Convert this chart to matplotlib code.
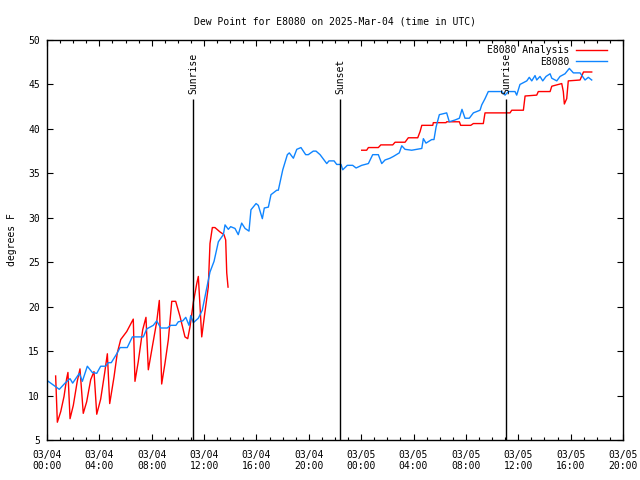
import numpy as np
import matplotlib
matplotlib.use('Agg')
import matplotlib.pyplot as plt

# time in hours since 03/04 00:00 UTC
obs_hours = [0.0, 0.94, 1.38, 1.76, 1.96, 2.47, 2.70, 3.08, 3.46, 3.80, 4.10, 4.48, 4.68, 4.91,
             5.37, 5.58, 6.13, 6.52, 7.36, 7.62, 8.12, 8.38, 8.69, 9.19, 9.45, 9.85, 10.03, 10.37,
             10.60, 10.85, 10.98, 11.18, 11.56, 11.86, 12.12, 12.45, 12.76, 13.09, 13.47, 13.60,
             13.85, 14.03, 14.36, 14.61, 14.87, 15.13, 15.43, 15.58, 15.97, 16.14, 16.45, 16.60,
             16.91, 17.11, 17.55, 17.67, 18.01, 18.36, 18.51, 18.82, 19.08, 19.40, 19.76, 19.96,
             20.34, 20.55, 20.86, 21.37, 21.54, 21.93, 22.13, 22.46, 22.59, 22.94, 23.35, 23.61,
             24.04, 24.55, 24.88, 25.31, 25.57, 25.82, 26.20, 26.46, 26.91, 27.10, 27.35, 27.86,
             28.24, 28.63, 28.75, 28.95, 29.39, 29.56, 29.72, 29.97, 30.53, 30.73, 31.17, 31.50,
             31.70, 31.93, 32.26, 32.57, 33.08, 33.21, 33.46, 33.71, 34.74, 34.99, 35.24, 35.75,
             35.88, 36.13, 36.39, 36.65, 36.84, 37.03, 37.28, 37.41, 37.66, 37.87, 38.12, 38.43,
             38.56, 38.94, 39.19, 39.57, 39.90, 40.21, 40.72, 41.10, 41.35, 41.61]
obs_dewp = [11.7, 10.7, 11.4, 11.9, 11.4, 12.5, 11.6, 13.3, 12.6, 12.5, 13.3, 13.3, 13.7, 13.7,
            14.8, 15.4, 15.4, 16.6, 16.6, 17.5, 17.9, 18.4, 17.6, 17.6, 17.9, 17.9, 18.3, 18.4,
            18.8, 17.9, 19.0, 18.2, 18.7, 19.6, 21.5, 23.9, 25.1, 27.3, 28.1, 29.2,
            28.7, 29.0, 28.8, 28.1, 29.4, 28.8, 28.5, 30.9, 31.6, 31.4, 29.9, 31.1,
            31.2, 32.6, 33.1, 33.1, 35.4, 37.1, 37.3, 36.7, 37.7, 37.9, 37.1, 37.1,
            37.5, 37.5, 37.1, 36.1, 36.4, 36.4, 36.0, 36.0, 35.4, 35.9, 35.9, 35.6,
            35.9, 36.1, 37.1, 37.1, 36.1, 36.5, 36.7, 36.9, 37.3, 38.1, 37.7, 37.6,
            37.7, 37.8, 38.9, 38.4, 38.8, 38.8, 40.2, 41.6, 41.8, 40.8, 41.0, 41.2,
            42.2, 41.2, 41.2, 41.8, 42.1, 42.7, 43.4, 44.2, 44.2, 43.8, 44.2, 44.2,
            43.8, 45.0, 45.2, 45.4, 45.8, 45.4, 46.0, 45.5, 45.9, 45.4, 45.9, 46.2,
            45.7, 45.4, 45.9, 46.2, 46.8, 46.3, 46.3, 45.5, 45.8, 45.5]

ana1_hours = [0.66, 0.79, 1.05, 1.30, 1.50, 1.60, 1.76, 2.01, 2.31, 2.52, 2.77, 3.03, 3.34, 3.59,
              3.80, 4.10, 4.41, 4.61, 4.79, 5.12, 5.37, 5.63, 6.09, 6.59, 6.72, 6.97, 7.31, 7.56,
              7.74, 8.07, 8.38, 8.58, 8.76, 9.01, 9.27, 9.53, 9.83, 10.16, 10.54, 10.75, 10.92,
              11.18, 11.44, 11.56, 11.82, 12.02, 12.32, 12.45, 12.63, 12.83, 13.22, 13.52, 13.65,
              13.73, 13.83]
ana1_dewp = [12.2, 7.0, 8.2, 9.9, 11.9, 12.6, 7.4, 8.9, 11.6, 13.0, 8.0, 9.3, 11.8, 12.7,
             7.9, 9.6, 12.6, 14.7, 9.1, 12.1, 14.8, 16.3, 17.2, 18.6, 11.6, 13.8, 17.4, 18.8,
             12.9, 15.7, 18.3, 20.7, 11.3, 13.6, 16.3, 20.6, 20.6, 18.9, 16.6, 16.4, 17.7,
             20.5, 22.6, 23.4, 16.6, 18.9, 22.2, 27.1, 28.9, 28.9, 28.4, 28.1, 27.5,
             23.8, 22.2]

ana2_hours = [24.04, 24.42, 24.55, 25.31, 25.50, 26.41, 26.59, 27.35, 27.60, 28.32, 28.50, 28.63,
              29.47, 29.51, 30.48, 30.53, 31.50, 31.60, 32.37, 32.57, 33.33, 33.46, 35.37, 35.50,
              36.39, 36.52, 37.41, 37.53, 38.43, 38.56, 39.32, 39.44, 39.52, 39.70, 39.82, 40.72,
              40.98, 41.61]
ana2_dewp = [37.6, 37.6, 37.9, 37.9, 38.2, 38.2, 38.5, 38.5, 39.0, 39.0, 39.7, 40.4,
             40.4, 40.7, 40.7, 40.8, 40.8, 40.4, 40.4, 40.6, 40.6, 41.8, 41.8, 42.1,
             42.1, 43.7, 43.8, 44.2, 44.2, 44.8, 45.1, 44.2, 42.8, 43.4, 45.4, 45.5,
             46.4, 46.4]

sun_hours = [11.15, 22.38, 35.06]
sun_names = ['Sunrise', 'Sunset', 'Sunrise']

tick_hours = list(range(0, 45, 4))
tick_labels = ['03/04\n00:00', '03/04\n04:00', '03/04\n08:00', '03/04\n12:00',
               '03/04\n16:00', '03/04\n20:00', '03/05\n00:00', '03/05\n04:00',
               '03/05\n08:00', '03/05\n12:00', '03/05\n16:00', '03/05\n20:00']

plt.rcParams['font.family'] = ['DejaVu Sans Mono']
plt.rcParams['font.size'] = 7

fig = plt.figure(figsize=(6.4, 4.8), dpi=100)
ax = fig.add_axes([47/640, 40/480, 576/640, 400/480])

ax.plot(ana1_hours, ana1_dewp, color='#ff0000', lw=1.0, label='E8080 Analysis')
ax.plot(ana2_hours, ana2_dewp, color='#ff0000', lw=1.0)
ax.plot(obs_hours, obs_dewp, color='#0f85ff', lw=1.0, label='E8080')

ax.vlines(sun_hours, 5, 43.4, color='black', lw=1.0)
for h, name in zip(sun_hours, sun_names):
    ax.text(h, 43.9, name, rotation=90, ha='center', va='bottom')

ax.set_xlim(0, 44)
ax.set_ylim(5, 50)
ax.set_xticks(tick_hours)
ax.set_xticklabels(tick_labels)
ax.set_xticks(np.arange(0, 45, 1), minor=True)
ax.set_yticks(np.arange(5, 51, 5))
ax.tick_params(which='both', direction='in', top=True, right=True)
ax.tick_params(axis='x', pad=7)
ax.tick_params(axis='y', pad=5)
ax.tick_params(which='major', length=4, width=0.8)
ax.tick_params(which='minor', length=2.5, width=0.8)
for s in ax.spines.values():
    s.set_linewidth(1.0)

ax.set_ylabel('degrees F', labelpad=8)
ax.set_title('Dew Point for E8080 on 2025-Mar-04 (time in UTC)', fontsize=7, pad=11)

leg = ax.legend(loc='upper right', bbox_to_anchor=(1 - 11/576, 1), markerfirst=False,
                frameon=False, handlelength=3.2, borderaxespad=0.15, labelspacing=0.15,
                handletextpad=0.6)

fig.savefig('out.png', dpi=100)
